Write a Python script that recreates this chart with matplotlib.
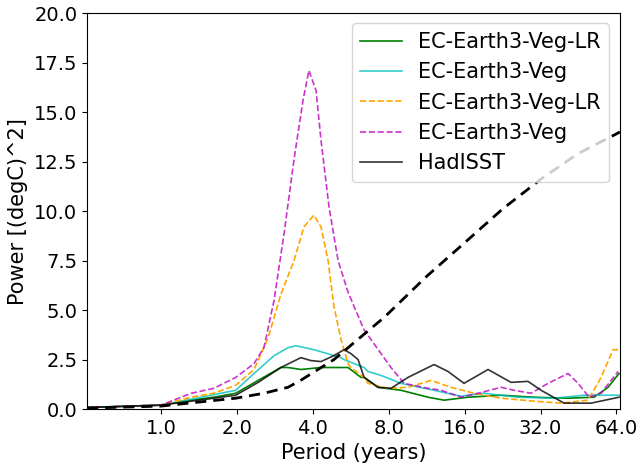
import matplotlib
matplotlib.use("Agg")
import matplotlib.pyplot as plt
from matplotlib.ticker import FixedLocator, FixedFormatter, NullLocator

# period (years) and power values
green_p = [0.51, 1.0, 1.32, 1.62, 1.98, 2.43, 2.99, 3.19, 3.59, 4.31, 5.18, 5.52, 6.21, 6.39, 7.26, 8.95, 11.46, 13.26, 16.51, 22.31, 30.15, 41.13, 52.16, 59.27, 65.53]
green_v = [0.08, 0.2, 0.45, 0.6, 0.8, 1.45, 2.1, 2.1, 2.0, 2.1, 2.1, 2.1, 1.6, 1.6, 1.1, 0.95, 0.6, 0.45, 0.6, 0.7, 0.6, 0.55, 0.6, 1.1, 1.8]

cyan_p = [0.51, 1.0, 1.32, 1.98, 2.34, 2.81, 3.19, 3.43, 4.04, 5.18, 5.32, 6.39, 6.62, 7.46, 8.95, 12.1, 15.49, 19.11, 26.06, 36.2, 47.61, 65.53]
cyan_v = [0.08, 0.2, 0.5, 0.95, 1.8, 2.7, 3.1, 3.2, 3.0, 2.6, 2.5, 2.1, 1.9, 1.7, 1.3, 0.95, 0.65, 0.8, 0.6, 0.55, 0.7, 0.7]

orange_p = [0.51, 1.0, 1.32, 1.62, 1.98, 2.34, 2.66, 2.99, 3.37, 3.69, 4.04, 4.31, 4.6, 4.85, 5.18, 5.52, 5.67, 6.39, 6.62, 7.95, 9.54, 11.77, 14.13, 17.44, 22.31, 30.15, 38.59, 49.38, 55.6, 62.03, 65.53]
orange_v = [0.08, 0.2, 0.6, 0.8, 1.2, 2.0, 3.6, 5.8, 7.5, 9.2, 9.8, 9.2, 7.5, 5.2, 3.5, 2.3, 2.1, 1.6, 1.3, 1.05, 1.1, 1.45, 1.1, 0.8, 0.55, 0.4, 0.3, 0.45, 1.6, 3.0, 3.0]

magenta_p = [0.51, 1.0, 1.32, 1.4, 1.62, 1.98, 2.34, 2.56, 2.81, 3.08, 3.37, 3.66, 3.86, 4.12, 4.31, 4.64, 5.04, 5.52, 6.39, 7.46, 8.17, 9.2, 11.46, 12.9, 15.49, 18.08, 22.31, 25.12, 29.34, 34.27, 41.13, 45.07, 49.82, 55.6, 64.94]
magenta_v = [0.08, 0.2, 0.8, 0.87, 1.05, 1.6, 2.3, 3.1, 5.5, 8.9, 12.6, 15.6, 17.1, 16.1, 13.6, 10.2, 7.5, 5.9, 4.0, 2.8, 2.1, 1.3, 1.05, 0.95, 0.6, 0.8, 1.1, 0.95, 0.8, 1.3, 1.8, 1.3, 0.6, 0.8, 1.9]

had_p = [0.51, 1.0, 1.32, 1.62, 1.98, 2.43, 2.99, 3.59, 3.93, 4.31, 4.85, 5.32, 5.67, 6.05, 6.39, 7.26, 8.17, 9.54, 12.1, 13.75, 15.91, 19.81, 24.44, 28.54, 32.15, 39.67, 50.74, 65.53]
had_v = [0.08, 0.2, 0.4, 0.55, 0.7, 1.35, 2.1, 2.6, 2.45, 2.4, 2.7, 3.0, 2.8, 2.5, 1.6, 1.1, 1.05, 1.6, 2.25, 1.9, 1.3, 2.0, 1.35, 1.4, 0.95, 0.3, 0.3, 0.6]

noise_p = [0.51, 1.0, 1.4, 1.98, 2.56, 3.19, 3.59, 4.85, 7.46, 8.0, 11.3, 16.0, 22.6, 32.0, 45.0, 64.0, 66.0]
noise_v = [0.05, 0.15, 0.35, 0.55, 0.8, 1.1, 1.46, 2.5, 4.5, 4.85, 6.7, 8.4, 10.1, 11.6, 12.9, 13.9, 14.0]

tick_periods = [1, 2, 4, 8, 16, 32, 64]

fig = plt.figure(figsize=(6.41, 4.67), dpi=100)
ax = fig.add_axes([0.136, 0.124, 0.831, 0.848])

ax.plot(green_p, green_v, color='g', lw=1.2, label='EC-Earth3-Veg-LR')
ax.plot(cyan_p, cyan_v, color='c', lw=1.2, alpha=0.8, label='EC-Earth3-Veg')
ax.plot(orange_p, orange_v, color='orange', ls='--', lw=1.2, label='EC-Earth3-Veg-LR')
ax.plot(magenta_p, magenta_v, color='m', ls='--', lw=1.2, alpha=0.8, label='EC-Earth3-Veg')
ax.plot(had_p, had_v, color='k', lw=1.2, alpha=0.8, label='HadISST')
ax.plot(noise_p, noise_v, color='k', ls=(0, (4, 2.5)), lw=2)

ax.set_xscale('log', base=2)
ax.set_xlim(0.51, 66)
ax.set_ylim(0, 20)
ax.xaxis.set_major_locator(FixedLocator(tick_periods))
ax.xaxis.set_major_formatter(FixedFormatter(['%.1f' % t for t in tick_periods]))
ax.xaxis.set_minor_locator(NullLocator())
ax.set_yticks([0, 2.5, 5, 7.5, 10, 12.5, 15, 17.5, 20])
ax.tick_params(labelsize=14)

ax.set_xlabel('Period (years)', fontsize=15)
ax.set_ylabel('Power [(degC)^2]', fontsize=15)
ax.legend(loc='upper right', fontsize=15)

fig.savefig('out.png', dpi=100)
